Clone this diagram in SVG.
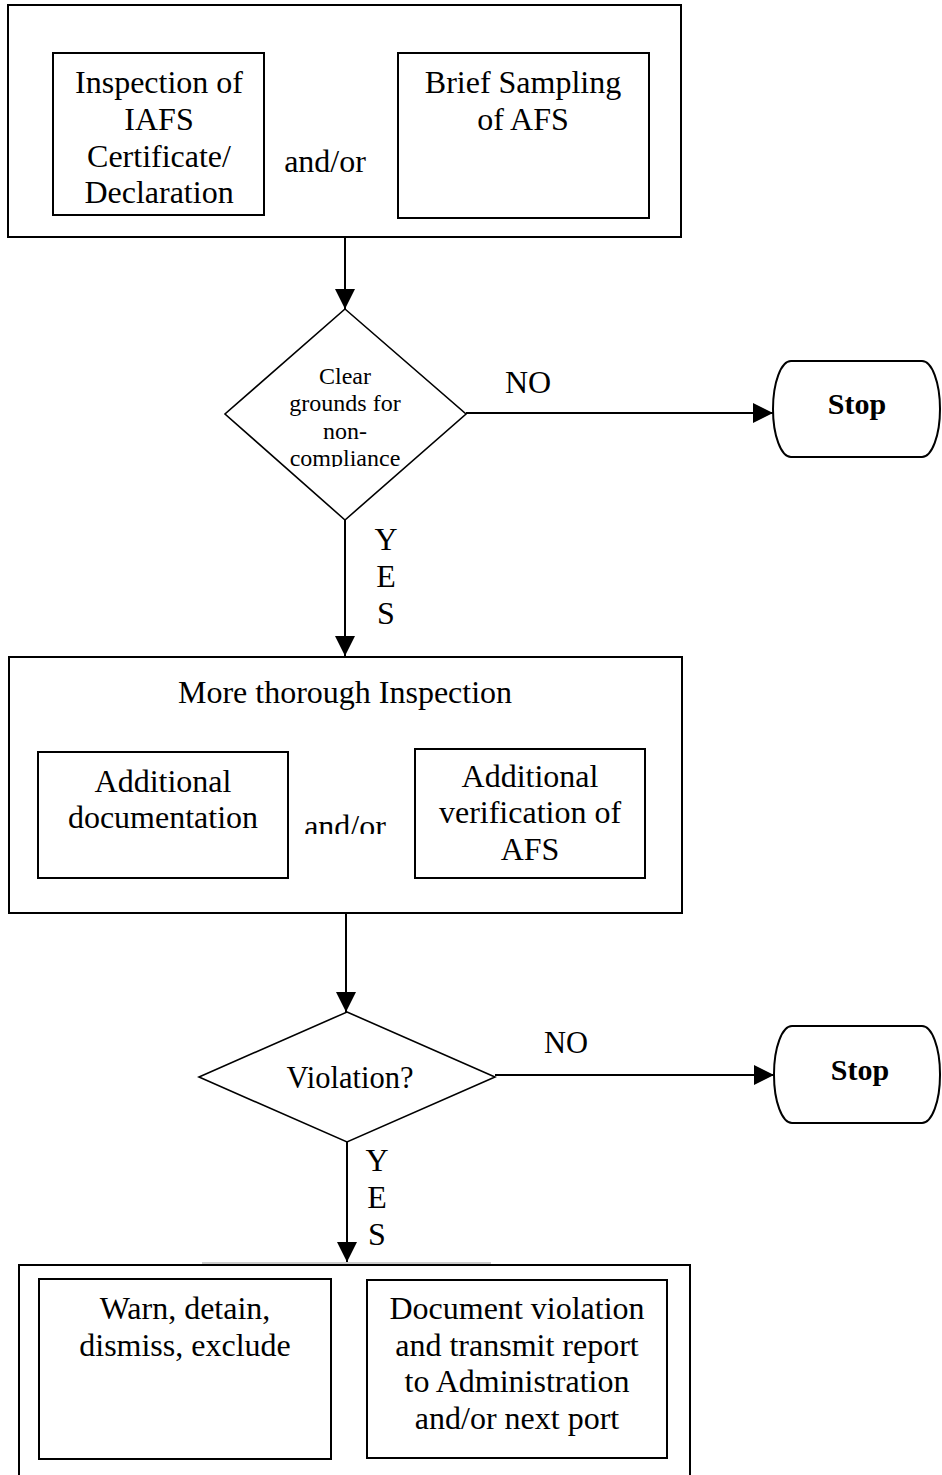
<svg xmlns="http://www.w3.org/2000/svg" width="942" height="1475" viewBox="0 0 942 1475">
<style>
  .box{fill:#fff;stroke:#000;stroke-width:2}
  .dia{fill:#fff;stroke:#000;stroke-width:1.6}
  .t{font-family:"Liberation Serif","Times New Roman",serif;font-size:32px;fill:#000;text-anchor:middle}
  .s{font-size:24px}
  .b{font-weight:bold;font-size:30px}
  .con{stroke:#000;stroke-width:2;fill:none}
</style>
<defs>
  <marker id="ah" markerUnits="userSpaceOnUse" markerWidth="20" markerHeight="20" refX="20" refY="10" orient="auto">
    <path d="M0,0 L20,10 L0,20 z" fill="#000"/>
  </marker>
  <clipPath id="clipD1"><rect x="220" y="300" width="250" height="167"/></clipPath>
  <clipPath id="clipAO"><rect x="290" y="780" width="110" height="54"/></clipPath>
</defs>
<rect width="942" height="1475" fill="#fff"/>

<g id="connectors">
  <line class="con" x1="345" y1="237" x2="345" y2="309" marker-end="url(#ah)"/>
  <line class="con" x1="466" y1="413" x2="773" y2="413" marker-end="url(#ah)"/>
  <line class="con" x1="345" y1="520" x2="345" y2="656" marker-end="url(#ah)"/>
  <line class="con" x1="346" y1="913" x2="346" y2="1012" marker-end="url(#ah)"/>
  <line class="con" x1="495" y1="1075" x2="774" y2="1075" marker-end="url(#ah)"/>
  <line class="con" x1="347" y1="1142" x2="347" y2="1262" marker-end="url(#ah)"/>
  <text class="t" x="528" y="393">NO</text>
  <text class="t" x="386" y="550">Y</text>
  <text class="t" x="386" y="587">E</text>
  <text class="t" x="386" y="624">S</text>
  <text class="t" x="566" y="1053" style="font-size:30.5px">NO</text>
  <text class="t" x="377" y="1171">Y</text>
  <text class="t" x="377" y="1208">E</text>
  <text class="t" x="377" y="1245">S</text>
</g>

<g id="initial-inspection">
  <rect class="box" x="8" y="5" width="673" height="232"/>
  <g id="iafs-certificate">
    <rect class="box" x="53" y="53" width="211" height="162"/>
    <text class="t" x="159" y="93">Inspection of</text>
    <text class="t" x="159" y="130">IAFS</text>
    <text class="t" x="159" y="167">Certificate/</text>
    <text class="t" x="159" y="203">Declaration</text>
  </g>
  <text class="t" x="325" y="172">and/or</text>
  <g id="brief-sampling">
    <rect class="box" x="398" y="53" width="251" height="165"/>
    <text class="t" x="523" y="93">Brief Sampling</text>
    <text class="t" x="523" y="130">of AFS</text>
  </g>
</g>

<g id="decision-clear-grounds">
  <polygon class="dia" points="345,309 466,414 345,520 225,414"/>
  <g clip-path="url(#clipD1)">
    <text class="t s" x="345" y="384">Clear</text>
    <text class="t s" x="345" y="411">grounds for</text>
    <text class="t s" x="345" y="439">non-</text>
    <text class="t s" x="345" y="466">compliance</text>
  </g>
</g>

<g id="stop-1">
  <rect x="773" y="361" width="167" height="96" rx="18" ry="48" fill="#fff" stroke="#000" stroke-width="2"/>
  <text class="t b" x="857" y="414">Stop</text>
</g>

<g id="thorough-inspection">
  <rect class="box" x="9" y="657" width="673" height="256"/>
  <text class="t" x="345" y="703">More thorough Inspection</text>
  <g id="additional-documentation">
    <rect class="box" x="38" y="752" width="250" height="126"/>
    <text class="t" x="163" y="792">Additional</text>
    <text class="t" x="163" y="828">documentation</text>
  </g>
  <text class="t" x="345" y="837" clip-path="url(#clipAO)">and/or</text>
  <g id="additional-verification">
    <rect class="box" x="415" y="749" width="230" height="129"/>
    <text class="t" x="530" y="787">Additional</text>
    <text class="t" x="530" y="823">verification of</text>
    <text class="t" x="530" y="860">AFS</text>
  </g>
</g>

<g id="decision-violation">
  <polygon class="dia" points="347,1012 495,1077 347,1142 199,1077"/>
  <text class="t" x="350" y="1088" style="font-size:30.5px">Violation?</text>
</g>

<g id="stop-2">
  <rect x="774" y="1026" width="166" height="97" rx="18" ry="48" fill="#fff" stroke="#000" stroke-width="2"/>
  <text class="t b" x="860" y="1080">Stop</text>
</g>

<g id="enforcement">
  <line x1="202" y1="1263" x2="491" y2="1263" stroke="#999" stroke-width="1"/>
  <path d="M19,1480 V1265 H690 V1480" fill="#fff" stroke="#000" stroke-width="2"/>
  <g id="warn-detain">
    <rect class="box" x="39" y="1279" width="292" height="180"/>
    <text class="t" x="185" y="1319">Warn, detain,</text>
    <text class="t" x="185" y="1356">dismiss, exclude</text>
  </g>
  <g id="document-violation">
    <rect class="box" x="367" y="1280" width="300" height="178"/>
    <text class="t" x="517" y="1319">Document violation</text>
    <text class="t" x="517" y="1356">and transmit report</text>
    <text class="t" x="517" y="1392">to Administration</text>
    <text class="t" x="517" y="1429">and/or next port</text>
  </g>
</g>
</svg>
